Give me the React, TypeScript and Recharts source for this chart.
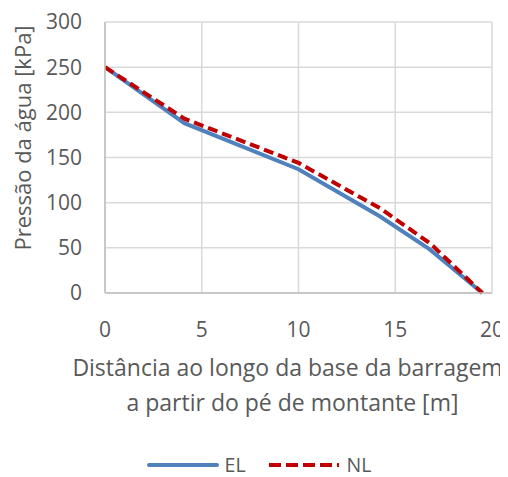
import {
  LineChart,
  Line,
  XAxis,
  YAxis,
  CartesianGrid,
  Legend,
  Label,
} from 'recharts'

const distEL = [0, 4.1, 10, 14.2, 16.8, 19.5]
const pressEL = [250, 188, 137, 85, 48, 0]
const distNL = [0, 4.1, 10, 14.2, 16.8, 19.5]
const pressNL = [250, 193, 144, 94, 55, 0]
const xTicks = [0, 5, 10, 15, 20]
const yTicks = [0, 50, 100, 150, 200, 250, 300]

const elData = distEL.map((x, i) => ({ x, EL: pressEL[i] }))
const nlData = distNL.map((x, i) => ({ x, NL: pressNL[i] }))

const font = '"Open Sans", sans-serif'
const textColor = '#595959'

function LegendBox() {
  return (
    <div
      style={{
        display: 'flex',
        justifyContent: 'center',
        alignItems: 'center',
        fontFamily: font,
        fontSize: 19.5,
        lineHeight: '18px',
        color: textColor,
        height: 20,
        paddingLeft: 18,
        marginTop: 4,
      }}
    >
      <svg width={72} height={10}>
        <line x1={2} y1={5} x2={70} y2={5} stroke="#4f81bd" strokeWidth={4} strokeLinecap="round" />
      </svg>
      <span style={{ marginLeft: 6, marginRight: 22 }}>EL</span>
      <svg width={72} height={10}>
        <line x1={1} y1={5} x2={71} y2={5} stroke="#c00000" strokeWidth={4} strokeDasharray="12 5" />
      </svg>
      <span style={{ marginLeft: 7 }}>NL</span>
    </div>
  )
}

export default function App() {
  return (
    <LineChart
      width={500}
      height={469}
      margin={{ top: 14, right: 16, left: 0, bottom: 0 }}
      style={{ fontFamily: font, overflow: 'visible' }}
    >
      <CartesianGrid stroke="#d9d9d9" strokeWidth={1.5} />
      <XAxis
        type="number"
        dataKey="x"
        domain={[0, 20]}
        ticks={xTicks}
        allowDataOverflow
        tickLine={false}
        tickSize={0}
        tickMargin={29}
        stroke="#bfbfbf"
        strokeWidth={1.5}
        height={158}
        tick={{ fill: textColor, fontSize: 21 }}
      >
        <Label
          content={({ viewBox }: any) => {
            const cx = viewBox.x + viewBox.width / 2
            const y = viewBox.y
            return (
              <text fill={textColor} fontSize={23} textAnchor="middle" fontFamily={font}>
                <tspan x={cx - 11} y={y + 83}>Distância ao longo da base da barragem</tspan>
                <tspan x={cx - 6} y={y + 118}>a partir do pé de montante [m]</tspan>
              </text>
            )
          }}
        />
      </XAxis>
      <YAxis
        type="number"
        domain={[0, 300]}
        ticks={yTicks}
        tickLine={false}
        tickSize={0}
        tickMargin={23}
        width={97}
        stroke="#bfbfbf"
        strokeWidth={1.5}
        tick={{ fill: textColor, fontSize: 21 }}
      >
        <Label
          content={() => (
            <text
              x={14}
              y={130}
              transform="rotate(-90 14 130)"
              fill={textColor}
              fontSize={22}
              textAnchor="middle"
              dominantBaseline="central"
              fontFamily={font}
            >
              Pressão da água [kPa]
            </text>
          )}
        />
      </YAxis>
      <Legend verticalAlign="bottom" height={26} content={() => <LegendBox />} />
      <Line
        data={elData}
        dataKey="EL"
        type="linear"
        stroke="#4f81bd"
        strokeWidth={4}
        dot={false}
        isAnimationActive={false}
      />
      <Line
        data={nlData}
        dataKey="NL"
        type="linear"
        stroke="#c00000"
        strokeWidth={4}
        strokeDasharray="10 5"
        dot={false}
        isAnimationActive={false}
      />
    </LineChart>
  )
}
